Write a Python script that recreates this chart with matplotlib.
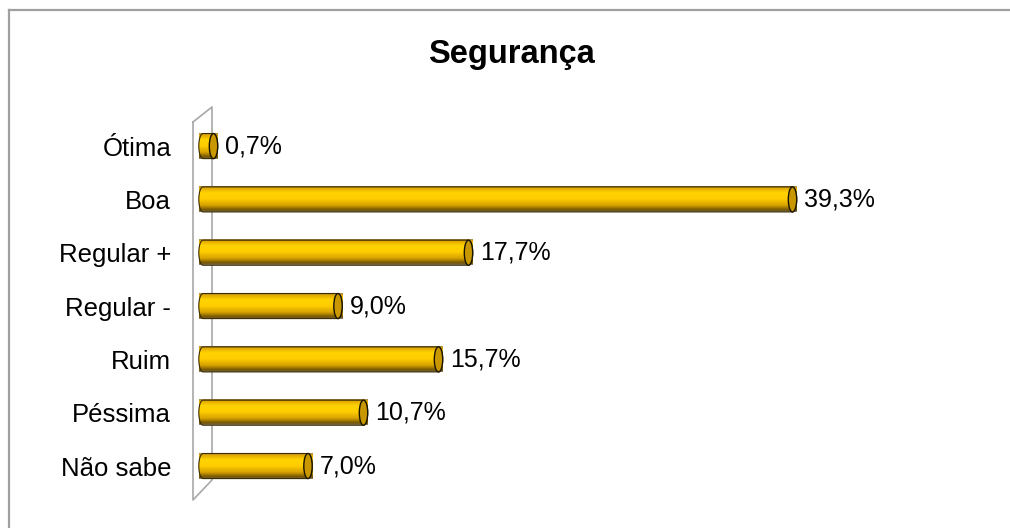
import numpy as np
import matplotlib
matplotlib.use("Agg")
import matplotlib.pyplot as plt
from matplotlib.colors import LinearSegmentedColormap
from matplotlib.patches import Polygon, Ellipse
from matplotlib.lines import Line2D

categories = ["Ótima", "Boa", "Regular +", "Regular -", "Ruim", "Péssima", "Não sabe"]
values = [0.7, 39.3, 17.7, 9.0, 15.7, 10.7, 7.0]
value_labels = ["0,7%", "39,3%", "17,7%", "9,0%", "15,7%", "10,7%", "7,0%"]
title = "Segurança"

W, H = 1010, 528
plt.rcParams["font.family"] = ["Liberation Sans", "DejaVu Sans"]

fig = plt.figure(figsize=(W / 100, H / 100), dpi=100)


def px(x, y):
    return x / W, 1 - y / H


# outer chart border (only top and left visible in the crop)
fig.add_artist(Line2D([9 / W, 9 / W], [0, 1 - 10 / H], color="#a0a0a0", lw=1.6))
fig.add_artist(Line2D([9 / W, 1], [1 - 10 / H, 1 - 10 / H], color="#a0a0a0", lw=1.6))

# 3D back wall outline, behind the bars
wall = [px(193, 122), px(212, 107), px(212, 480), px(193, 500), px(193, 122)]
fig.add_artist(Line2D([p[0] for p in wall], [p[1] for p in wall],
                      color="#a8a8a8", lw=1.2, zorder=-1))

ax = fig.add_axes([203 / W, 1 - 492.7 / H, 750 / W, 373.3 / H])
ax.patch.set_alpha(0)
for s in ax.spines.values():
    s.set_visible(False)

# vertical shading of the cylinder, row 0 = top
cmap = LinearSegmentedColormap.from_list(
    "cyl", [(0.0, "#9a8a60"), (0.06, "#e0a400"), (0.25, "#ffd400"),
            (0.5, "#ffcc00"), (0.75, "#d4a000"), (0.93, "#6e5000"),
            (1.0, "#8a8070")])
grad = np.linspace(0, 1, 64).reshape(-1, 1)

h = 0.47
a = 0.28
t = np.linspace(0, np.pi, 40)
for i, v in enumerate(values):
    y0, y1 = i - h / 2, i + h / 2
    left = np.column_stack([-a * np.sin(t), i - (h / 2) * np.cos(t)])
    right = np.column_stack([v + a * np.sin(t), i + (h / 2) * np.cos(t)])
    poly = Polygon(np.vstack([left, right]), closed=True, facecolor="none",
                   edgecolor="#3a2c00", lw=0.8, zorder=4, clip_on=False)
    ax.add_patch(poly)
    img = ax.imshow(grad, cmap=cmap, extent=[-a, v + a, y1, y0],
                    origin="upper", aspect="auto", interpolation="bilinear",
                    zorder=3)
    img.set_clip_on(False)
    img.set_clip_path(poly)
    cap = Ellipse((v, i), 2 * a, h, facecolor="#c99700", edgecolor="#1a1400",
                  lw=1.0, zorder=5, clip_on=False)
    ax.add_patch(cap)
    ax.text(v + 0.8, i, value_labels[i], ha="left", va="center",
            fontsize=18, color="#000000")

ax.set_xlim(0, 50)
ax.set_ylim(len(values) - 0.5, -0.5)
ax.set_xticks([])
ax.set_yticks(range(len(categories)))
ax.set_yticklabels(categories, fontsize=18.5)
ax.tick_params(axis="y", length=0, pad=23)

fig.text(511 / W, 1 - 55 / H, title, ha="center", va="center",
         fontsize=23.5, fontweight="bold")

fig.savefig("out.png", dpi=100)
